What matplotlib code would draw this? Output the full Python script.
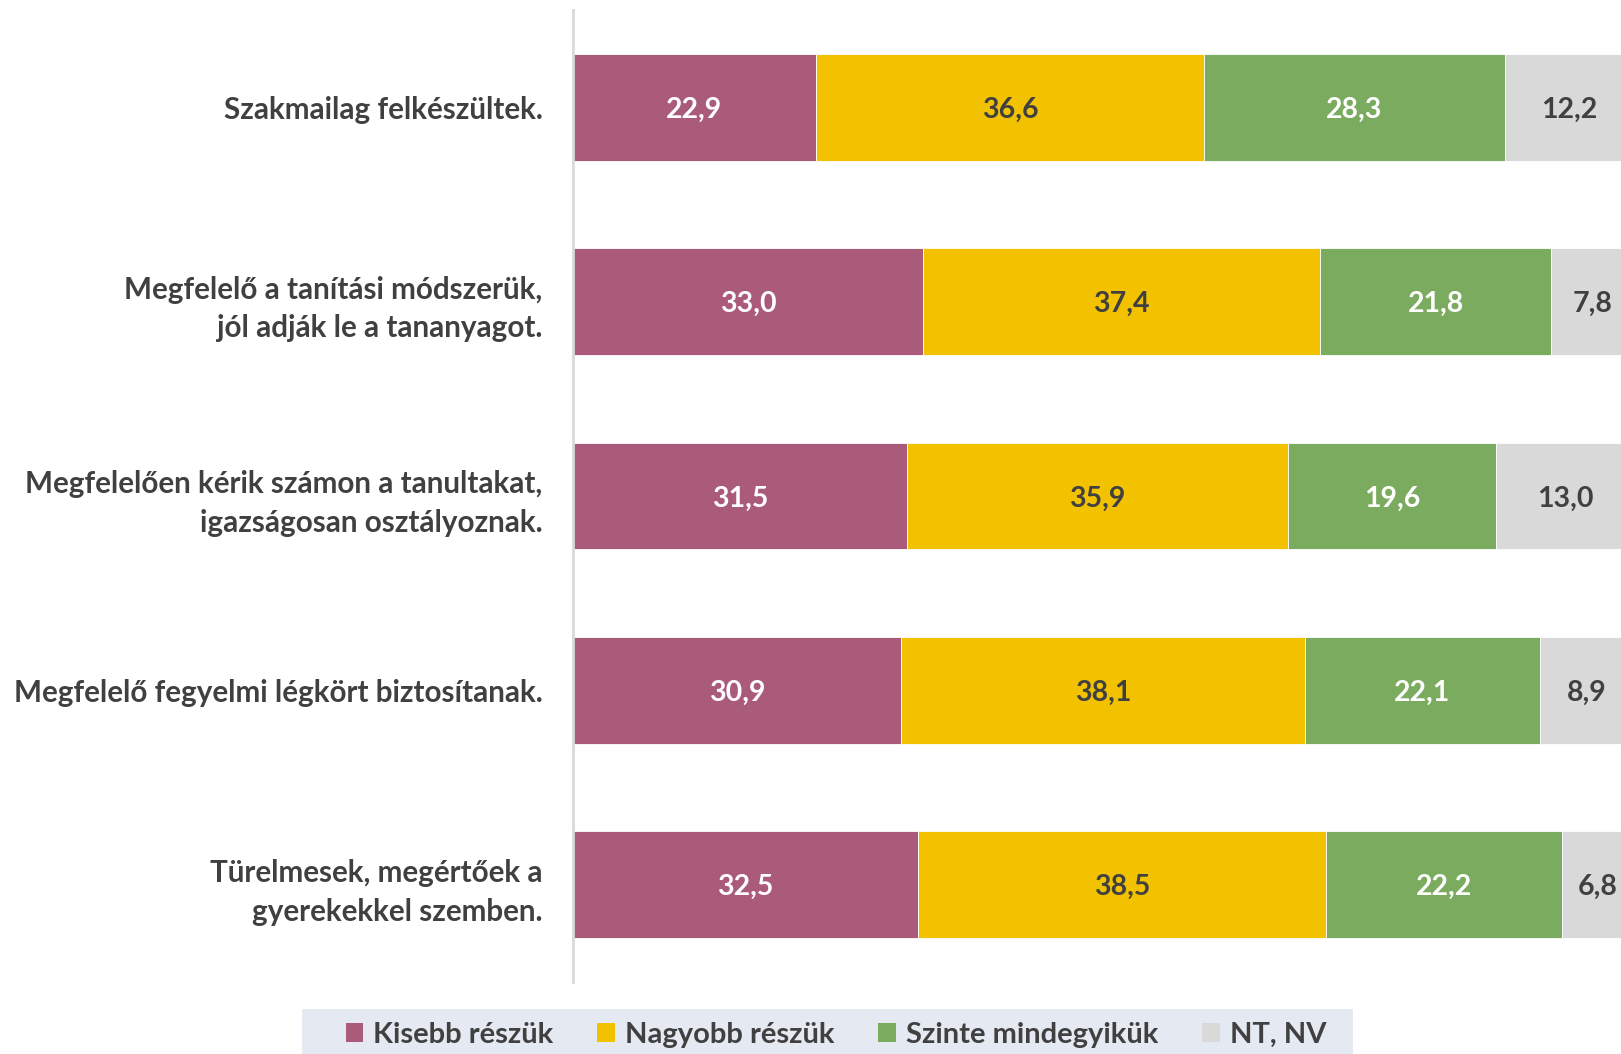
import matplotlib.pyplot as plt
from matplotlib.patches import Patch, Rectangle

plt.rcParams['font.family'] = ['Lato', 'DejaVu Sans']
plt.rcParams['font.weight'] = 'bold'

categories = [
    "Szakmailag felkészültek.",
    "Megfelelő a tanítási módszerük,\njól adják le a tananyagot.",
    "Megfelelően kérik számon a tanultakat,\nigazságosan osztályoznak.",
    "Megfelelő fegyelmi légkört biztosítanak.",
    "Türelmesek, megértőek a\ngyerekekkel szemben.",
]
series_names = ["Kisebb részük", "Nagyobb részük", "Szinte mindegyikük", "NT, NV"]
kisebb = [22.9, 33.0, 31.5, 30.9, 32.5]
nagyobb = [36.6, 37.4, 35.9, 38.1, 38.5]
szinte = [28.3, 21.8, 19.6, 22.1, 22.2]
ntnv = [12.2, 7.8, 13.0, 8.9, 6.8]

colors = ['#AB5B7A', '#F2C200', '#7BAB5E', '#D9D9D9']
text_colors = ['white', '#404040', 'white', '#404040']
dark = '#404040'

fig = plt.figure(figsize=(16.21, 10.54), dpi=100)
ax = fig.add_axes([573 / 1621, 1 - 982 / 1054, (1634 - 573) / 1621, (982 - 10) / 1054])

y = list(range(len(categories)))
left = [0.0] * len(categories)
for vals, col, tcol, name in zip([kisebb, nagyobb, szinte, ntnv], colors, text_colors, series_names):
    bars = ax.barh(y, vals, left=left, height=0.55, color=col, edgecolor='white',
                   linewidth=0.6, label=name)
    txts = ax.bar_label(bars, labels=[f"{v:.1f}".replace('.', ',') for v in vals],
                        label_type='center', color=tcol, fontsize=20.5, fontweight='bold')
    for t in txts:
        t.set_va('center_baseline')
    left = [a + b for a, b in zip(left, vals)]

ax.set_xlim(0, 100)
ax.set_ylim(len(categories) - 0.5, -0.5)
ax.set_yticks(y)
ax.set_yticklabels(categories, fontsize=21.3, color=dark, fontweight='bold', linespacing=1.45)
ax.tick_params(axis='y', length=0, pad=22)
ax.set_xticks([])
for s in ['top', 'right', 'bottom']:
    ax.spines[s].set_visible(False)
ax.spines['left'].set_color('#D9D9D9')
ax.spines['left'].set_linewidth(2)

# legend band
fig.patches.append(Rectangle((302 / 1621, 0), (1353 - 302) / 1621, 45 / 1054,
                             transform=fig.transFigure, facecolor='#E4E9F2',
                             edgecolor='none', zorder=0))
handles = [Patch(facecolor=c, edgecolor='none') for c in colors]
fig.legend(handles, series_names, loc='center', bbox_to_anchor=(836 / 1621, 19 / 1054),
           ncol=4, frameon=False, handlelength=0.6, handleheight=0.6,
           handletextpad=0.35, columnspacing=1.5, labelcolor=dark,
           prop={'weight': 'bold', 'size': 21})

fig.savefig('out.png', dpi=100)
